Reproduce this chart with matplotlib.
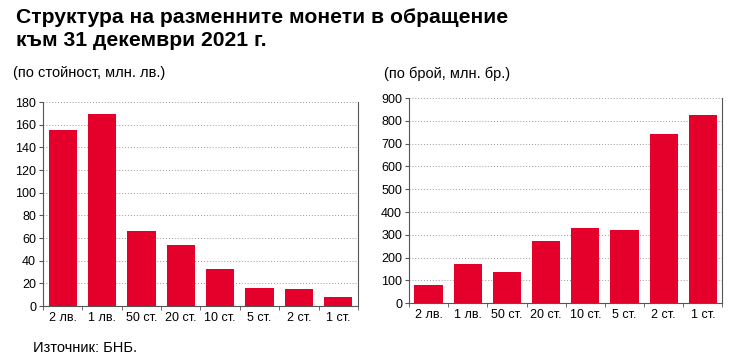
import matplotlib.pyplot as plt
import numpy as np

categories = ["2 лв.", "1 лв.", "50 ст.", "20 ст.", "10 ст.", "5 ст.", "2 ст.", "1 ст."]
value_mln_lv = [155.6, 169.7, 66.5, 54.1, 32.9, 16.2, 15.3, 8.2]
count_mln = [79, 172, 137, 273, 330, 322, 744, 824]

red = "#E4002B"
plt.rcParams["font.family"] = ["Liberation Sans", "DejaVu Sans"]

fig = plt.figure(figsize=(7.29, 3.58), dpi=100)
fig.text(0.022, 0.978, "Структура на разменните монети в обращение\nкъм 31 декември 2021 г.",
         fontsize=15.2, fontweight="bold", va="top", ha="left", linespacing=1.25)
fig.text(0.018, 0.795, "(по стойност, млн. лв.)", fontsize=10.5, va="center")
fig.text(0.527, 0.795, "(по брой, млн. бр.)", fontsize=10.5, va="center")
fig.text(0.045, 0.028, "Източник: БНБ.", fontsize=10.5, va="center")

ax1 = fig.add_axes([0.059, 0.145, 0.432, 0.57])
ax2 = fig.add_axes([0.561, 0.153, 0.430, 0.573])


def style(ax, data, top, step):
    x = np.arange(len(categories))
    ax.bar(x, data, width=0.72, color=red, zorder=2)
    ax.set_xlim(-0.5, len(categories) - 0.5)
    ax.set_ylim(0, top)
    ax.set_yticks(np.arange(0, top + 1, step))
    ax.set_xticks(x)
    ax.set_xticklabels(categories)
    ax.set_xticks(np.arange(-0.5, len(categories)), minor=True)
    ax.tick_params(axis="x", which="major", length=0, pad=4, labelsize=9)
    ax.tick_params(axis="x", which="minor", length=3, color="#555555")
    ax.tick_params(axis="y", length=3, pad=2, labelsize=9, color="#555555")
    ax.grid(axis="y", linestyle=(0, (1, 2)), color="#999999", linewidth=0.7, zorder=0)
    ax.spines["top"].set_visible(False)
    for s in ["left", "bottom", "right"]:
        ax.spines[s].set_color("#555555")
        ax.spines[s].set_linewidth(0.8)


style(ax1, value_mln_lv, 180, 20)
style(ax2, count_mln, 900, 100)

fig.savefig("out.png", dpi=100)
